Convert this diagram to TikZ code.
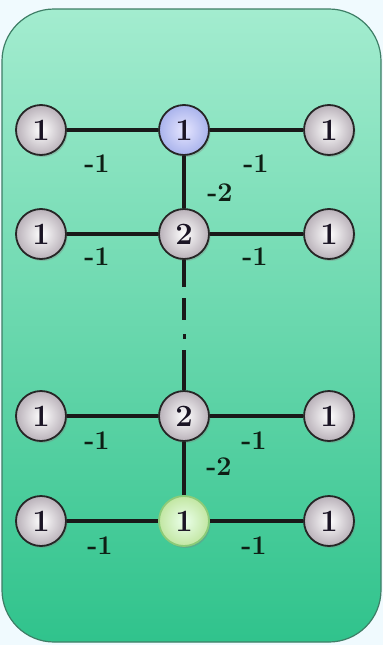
\documentclass[tikz,border=0pt]{standalone}
\usepackage{fontspec}
\usetikzlibrary{shadows}
\definecolor{bgtop}{HTML}{A3ECCF}
\definecolor{bgbot}{HTML}{30C38C}
\definecolor{frame}{HTML}{3E7E66}
\definecolor{greyout}{HTML}{B9B1B9}
\definecolor{blueout}{HTML}{A9B3EC}
\definecolor{greenout}{HTML}{C2E6A2}
\definecolor{greenrim}{HTML}{8CCB78}
\definecolor{ink}{HTML}{1A1424}
\definecolor{lblink}{HTML}{0E1E14}
\begin{document}
\begin{tikzpicture}[x=1pt,y=-1pt,
  vtx/.style={circle, minimum size=50pt, inner sep=0pt, draw=black!85, line width=1.8pt,
    inner color=white, outer color=greyout, text=ink,
    font=\fontsize{31}{31}\selectfont\bfseries, text depth=-4pt,
    drop shadow={shadow xshift=1.5pt, shadow yshift=-2pt, opacity=.35}},
  bluevtx/.style={vtx, outer color=blueout, inner color=white!90!blue},
  greenvtx/.style={vtx, outer color=greenout, inner color=white!92!green, draw=greenrim},
  edge/.style={line width=4pt, draw=black!90},
  lbl/.style={text=lblink, font=\fontsize{27}{27}\selectfont\bfseries, inner sep=0pt}]
\useasboundingbox (0,0) rectangle (383,645);
\fill[white!94!cyan] (0,0) rectangle (383,645);
\draw[rounded corners=52pt, draw=frame, line width=1.2pt, top color=bgtop, bottom color=bgbot]
  (2,9) rectangle (381,642);
% dashed-gap points of the backbone
\coordinate (d1) at (184,287);
\coordinate (d2) at (184,298);
\coordinate (d3) at (184,320);
\coordinate (d4) at (184,334);
\coordinate (d5) at (184,339);
\coordinate (d6) at (184,350);
% nodes
\node[vtx] (a1) at (41,130) {1};
\node[bluevtx] (b1) at (184,130) {1};
\node[vtx] (c1) at (329,130) {1};
\node[vtx] (a2) at (41,234) {1};
\node[vtx] (b2) at (184,234) {2};
\node[vtx] (c2) at (329,234) {1};
\node[vtx] (a3) at (41,416) {1};
\node[vtx] (b3) at (184,416) {2};
\node[vtx] (c3) at (329,416) {1};
\node[vtx] (a4) at (41,521) {1};
\node[greenvtx] (b4) at (184,521) {1};
\node[vtx] (c4) at (329,521) {1};
% edges
\draw[edge] (a1) -- (b1);
\draw[edge] (b1) -- (c1);
\draw[edge] (a2) -- (b2);
\draw[edge] (b2) -- (c2);
\draw[edge] (a3) -- (b3);
\draw[edge] (b3) -- (c3);
\draw[edge] (a4) -- (b4);
\draw[edge] (b4) -- (c4);
\draw[edge] (b1) -- (b2);
\draw[edge] (b3) -- (b4);
\draw[edge] (b2) -- (d1);
\draw[edge] (d2) -- (d3);
\draw[edge, line width=3pt] (d4) -- (d5);
\draw[edge] (d6) -- (b3);
% labels
\node[lbl] (l1a) at (97,164) {-1};
\node[lbl] (l1b) at (256,164) {-1};
\node[lbl] (l12) at (220,193) {-2};
\node[lbl] (l2a) at (97,257) {-1};
\node[lbl] (l2b) at (255,257) {-1};
\node[lbl] (l3a) at (97,441) {-1};
\node[lbl] (l3b) at (254,441) {-1};
\node[lbl] (l34) at (219,467) {-2};
\node[lbl] (l4a) at (100,546) {-1};
\node[lbl] (l4b) at (254,546) {-1};
\end{tikzpicture}
\end{document}
